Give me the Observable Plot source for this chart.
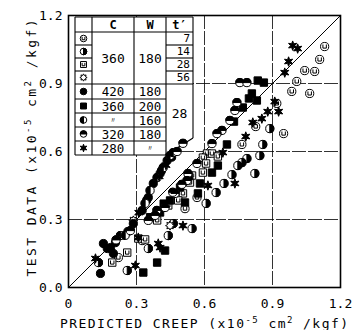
<!DOCTYPE html>
<html><head><meta charset="utf-8">
<script src="https://cdn.jsdelivr.net/npm/d3@7"></script>
<script src="https://cdn.jsdelivr.net/npm/@observablehq/plot@0.6"></script>
<style>body{margin:0;background:#fff} svg{display:block}</style>
</head><body><div id="chart"></div>
<script>
// ---- data (predicted creep, test data) x10^-5 cm2/kgf ----
const s360_180_t7 = [[1.130,1.063],[1.108,1.006],[1.086,0.953],[1.042,0.957],[1.007,0.909],[0.985,0.865],[1.064,0.856],[0.919,0.812],[0.949,0.679],[0.826,0.710],[0.765,0.631],[0.567,0.397],[0.514,0.348],[0.325,0.207],[0.220,0.132]];
const s360_180_t14 = [[0.888,0.701],[0.857,0.631],[0.844,0.582],[0.787,0.569],[0.765,0.551],[0.747,0.538],[0.822,0.503],[0.721,0.498],[0.686,0.459],[0.651,0.419],[0.607,0.371],[0.545,0.260],[0.462,0.282],[0.440,0.229],[0.352,0.172],[0.259,0.075],[0.132,0.110]];
const s360_180_t28 = [[0.611,0.591],[0.633,0.591],[0.659,0.578],[0.593,0.573],[0.607,0.547],[0.593,0.507],[0.545,0.494],[0.536,0.463],[0.505,0.415],[0.484,0.384],[0.440,0.362],[0.391,0.296],[0.308,0.216],[0.338,0.212],[0.259,0.154],[0.193,0.110]];
const s360_180_t56 = [[0.448,0.273],[0.286,0.296]];
const s420_180 = [[0.141,0.062],[0.198,0.150],[0.171,0.172],[0.154,0.194],[0.207,0.198],[0.185,0.176],[0.325,0.340],[0.345,0.385],[0.352,0.397],[0.374,0.459],[0.404,0.503],[0.410,0.515],[0.435,0.560],[0.455,0.575],[0.286,0.282],[0.262,0.247]];
const s360_200 = [[0.835,0.913],[0.862,0.904],[0.809,0.856],[0.796,0.834],[0.831,0.825],[0.769,0.794],[0.730,0.732],[0.699,0.631],[0.659,0.538],[0.633,0.507],[0.580,0.459],[0.571,0.415],[0.514,0.375],[0.530,0.490],[0.492,0.441],[0.448,0.384],[0.420,0.370],[0.404,0.331],[0.360,0.310],[0.426,0.163],[0.391,0.110],[0.330,0.066]];
const s360_160 = [[0.338,0.371],[0.360,0.428],[0.391,0.485],[0.418,0.529],[0.448,0.582],[0.462,0.595],[0.250,0.230],[0.229,0.229]];
const s320_180 = [[0.756,0.904],[0.787,0.904],[0.743,0.816],[0.734,0.781],[0.712,0.737],[0.677,0.693],[0.655,0.679],[0.633,0.635],[0.567,0.547],[0.527,0.503],[0.505,0.636],[0.479,0.600],[0.523,0.472],[0.500,0.455],[0.470,0.415],[0.460,0.420],[0.426,0.353],[0.390,0.340],[0.382,0.318],[0.352,0.296],[0.273,0.251],[0.210,0.210]];
const s280 = [[0.989,1.067],[1.011,1.054],[0.971,0.997],[0.954,0.948],[0.910,0.820],[0.927,0.776],[0.879,0.776],[0.853,0.745],[0.813,0.728],[0.782,0.666],[0.681,0.595],[0.615,0.450],[0.734,0.459],[0.505,0.273],[0.396,0.194],[0.404,0.176],[0.295,0.097],[0.119,0.128],[0.308,0.220],[0.310,0.330],[0.400,0.490],[0.430,0.540]];

// ---- axes / table text ----
const xTicks = [0,0.3,0.6,0.9,1.2];
const xTickLabels = ["0","0.3","0.6","0.9","1.2"];
const yTicks = [0,0.3,0.6,0.9,1.2];
const yTickLabels = ["0.0","0.3","0.6","0.9","1.2"];
const gridVals = [0.3,0.6,0.9];
const diagX = [0,1.2];
const diagY = [0,1.2];
const tableHeader = ["C","W","t′"];
const tableC = ["360","420","360","〃","320","280"];
const tableW = ["180","180","200","160","180","〃"];
const tableT = ["7","14","28","56","28"];

// ---- custom symbols ----
const rad = s => Math.sqrt(s/Math.PI);
const halfRight = {draw(c,s){const r=rad(s); c.moveTo(0,-r); c.arc(0,0,r,-Math.PI/2,Math.PI/2); c.closePath();}};
const halfLeft = {draw(c,s){const r=rad(s); c.moveTo(0,r); c.arc(0,0,r,Math.PI/2,3*Math.PI/2); c.closePath();}};
const halfTop = {draw(c,s){const r=rad(s); c.moveTo(-r,0); c.arc(0,0,r,Math.PI,2*Math.PI); c.closePath();}};
const uMark = {draw(c,s){const r=rad(s); c.moveTo(-0.42*r,-0.5*r); c.lineTo(-0.42*r,0.38*r); c.lineTo(0.42*r,0.38*r); c.lineTo(0.42*r,-0.5*r);}};
const sq = {draw(c,s){const r=rad(s)*0.9; c.rect(-r,-r,2*r,2*r);}};
const star6 = {draw(c,s){const r=rad(s)*1.15; for(let k=0;k<12;k++){const a=-Math.PI/2+k*Math.PI/6; const rr=k%2?r*0.45:r; k?c.lineTo(rr*Math.cos(a),rr*Math.sin(a)):c.moveTo(rr*Math.cos(a),rr*Math.sin(a));} c.closePath();}};
const sun = {draw(c,s){const r=rad(s)*1.1; for(let k=0;k<16;k++){const a=-Math.PI/2+k*Math.PI/8; const rr=k%2?r*0.6:r; k?c.lineTo(rr*Math.cos(a),rr*Math.sin(a)):c.moveTo(rr*Math.cos(a),rr*Math.sin(a));} c.closePath();}};
const circ = d3.symbolCircle;

const seriesDefs = [
  {pts:s360_180_t7, layers:[[circ,"white","black"],[uMark,"none","black"]]},
  {pts:s360_180_t14, layers:[[circ,"white","black"],[halfRight,"black","black"]]},
  {pts:s360_180_t28, layers:[[sq,"white","black"],[uMark,"none","black"]]},
  {pts:s360_180_t56, layers:[[sun,"white","black"]]},
  {pts:s420_180, layers:[[circ,"black","black"]]},
  {pts:s360_200, layers:[[sq,"black","black"]]},
  {pts:s360_160, layers:[[circ,"white","black"],[halfLeft,"black","black"]]},
  {pts:s320_180, layers:[[circ,"white","black"],[halfTop,"black","black"]]},
  {pts:s280, layers:[[star6,"black","black"]]}
];

const R = 4.1;
const dotMarks = [];
for (const sd of seriesDefs) {
  const rows = sd.pts.map(([x,y]) => ({x,y}));
  for (const [sym, fill, stroke] of sd.layers) {
    dotMarks.push(Plot.dot(rows, {x:"x", y:"y", symbol:sym, fill, stroke, strokeWidth:1, r:R}));
  }
}

const diag = diagX.map((x,i) => ({x, y:diagY[i]}));

const chart = Plot.plot({
  width:356, height:330,
  marginLeft:68, marginRight:16, marginTop:15, marginBottom:43,
  x:{domain:[0,1.2]}, y:{domain:[0,1.2]},
  style:{fontFamily:"'DejaVu Sans Mono', monospace", fontSize:"13px", background:"white", color:"black"},
  marks:[
    Plot.ruleX(gridVals, {stroke:"black", strokeOpacity:0.8, strokeDasharray:"14,2"}),
    Plot.ruleY(gridVals, {stroke:"black", strokeOpacity:0.8, strokeDasharray:"14,2"}),
    Plot.line(diag, {x:"x", y:"y", stroke:"black", strokeWidth:1}),
    Plot.axisX({ticks:xTicks, tickFormat:d => xTickLabels[xTicks.indexOf(d)], tickSize:0, tickPadding:11, label:null}),
    Plot.axisY({ticks:yTicks, tickFormat:d => yTickLabels[yTicks.indexOf(d)], tickSize:0, tickPadding:6, label:null}),
    ...dotMarks,
    Plot.frame({stroke:"black", strokeWidth:1.6})
  ]
});
document.getElementById("chart").appendChild(chart);

const svg = d3.select(chart);
// ---- inset table (legend) ----
const tb = svg.insert("g", "g[aria-label='dot']").attr("font-family","'DejaVu Sans Mono', monospace").attr("font-size",13);
const X0=75, XS=92, XC=134, XW=166, XT=193, Y0=17, YH=32;
const rowB = [32,45,58,71,84,99,113,127,141,155];
const YB = 155, YSL = 138;
tb.append("path").attr("d",`M69,${Y0}H${XT}V${YSL}L${XW},${YB}H69Z`).attr("fill","white");
const ln = (x1,y1,x2,y2) => tb.append("line").attr("x1",x1).attr("y1",y1).attr("x2",x2).attr("y2",y2).attr("stroke","black").attr("stroke-width",1.1);
ln(X0,Y0,X0,YB); ln(X0,Y0,XT,Y0); ln(XT,Y0,XT,YSL); ln(XT,YSL,XW,YB); ln(X0,YB,XW,YB);
ln(XS,Y0,XS,YB); ln(XC,Y0,XC,YB); ln(XW,Y0,XW,YB);
ln(X0,YH,XT,YH); ln(X0,rowB[4],XT,rowB[4]);
for (let i=1;i<4;i++){ ln(X0,rowB[i],XS,rowB[i]); ln(XW,rowB[i],XT,rowB[i]); }
for (let i=5;i<9;i++){ ln(X0,rowB[i],XW,rowB[i]); }
const tx = (x,y,s,opt={}) => tb.append("text").attr("x",x).attr("y",y).attr("dy","0.36em").attr("text-anchor",opt.anchor||"middle").attr("font-size",opt.size||13).attr("font-weight",opt.weight||"normal").text(s);
tx((XS+XC)/2, (Y0+YH)/2, tableHeader[0], {weight:"bold", size:12});
tx((XC+XW)/2, (Y0+YH)/2, tableHeader[1], {weight:"bold", size:12});
tx((XW+XT)/2, (Y0+YH)/2, tableHeader[2], {weight:"bold", size:12});
tx((XS+XC)/2, (rowB[0]+rowB[4])/2, tableC[0]);
tx((XC+XW)/2, (rowB[0]+rowB[4])/2, tableW[0]);
for (let i=0;i<4;i++) tx(XT-3, (rowB[i]+rowB[i+1])/2, tableT[i], {anchor:"end", size:11});
for (let i=1;i<6;i++) {
  const cy = (rowB[i+3]+rowB[i+4])/2;
  const ditto = s => s==="〃";
  tx((XS+XC)/2, cy, tableC[i], ditto(tableC[i])?{size:8}:{size:12.5});
  tx((XC+XW)/2, cy, tableW[i], ditto(tableW[i])?{size:8}:{size:12.5});
}
tx((XW+XT)/2, 113, tableT[4]);
seriesDefs.forEach((sd,i) => {
  const cy = (rowB[i]+rowB[i+1])/2;
  for (const [sym, fill, stroke] of sd.layers) {
    tb.append("path").attr("transform",`translate(${(X0+XS)/2},${cy})`)
      .attr("d", d3.symbol(sym, Math.PI*3.3*3.3)()).attr("fill",fill).attr("stroke",stroke).attr("stroke-width",1);
  }
});

// ---- axis titles ----
const tt = svg.append("g").attr("font-family","'DejaVu Sans Mono', monospace").attr("font-size",13).attr("fill","black");
function title(g, parts) {
  let prevSup = false;
  parts.forEach(([s, sup]) => {
    const t = g.append("tspan").text(s);
    if (sup) t.attr("font-size",9).attr("dy","-5");
    else if (prevSup) t.attr("dy","5");
    prevSup = sup;
  });
}
const xt = tt.append("text").attr("x",204).attr("y",323).attr("dy","0.35em").attr("text-anchor","middle").attr("textLength",288).attr("lengthAdjust","spacing");
title(xt, [["PREDICTED CREEP (x10",false],["-5",true],[" cm",false],["2",true],[" /kgf)",false]]);
const yt = tt.append("text").attr("transform","translate(31,148) rotate(-90)").attr("dy","0.35em").attr("text-anchor","middle").attr("textLength",257).attr("lengthAdjust","spacing");
title(yt, [["TEST DATA (x10",false],["-5",true],[" cm",false],["2",true],[" /kgf)",false]]);
</script>
</body></html>
